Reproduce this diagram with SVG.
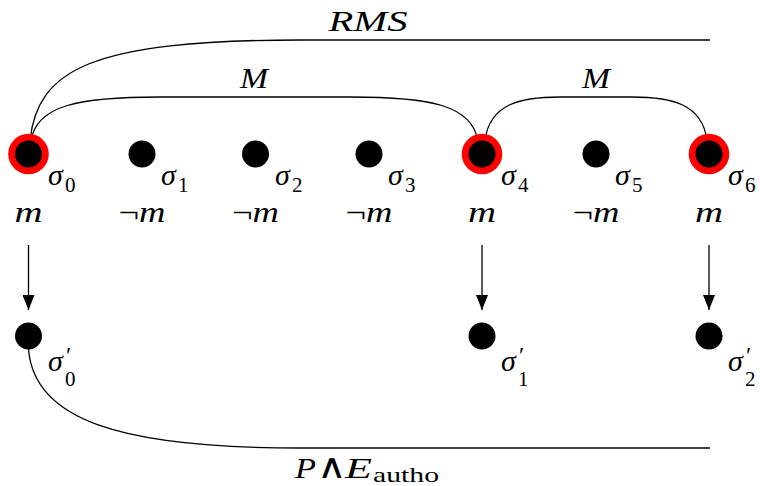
<svg xmlns="http://www.w3.org/2000/svg" width="760" height="486" viewBox="0 0 760 486">
<style>
.c{fill:none;stroke:#000;stroke-width:1.3}
.a{fill:none;stroke:#000;stroke-width:1.3}
.ring{fill:#ff0000}
.dot{fill:#000}
.t{font-family:"Liberation Serif","DejaVu Serif",serif;font-style:italic;font-size:30px;fill:#000}
.u{font-style:normal}
.w{font-family:"DejaVu Sans",sans-serif;font-style:normal;font-size:26px;font-weight:300}
.s{font-style:normal;font-size:21px}
.p{font-style:normal;font-size:24px}
</style>
<defs>
<marker id="ah" viewBox="0 0 15 12" refX="15" refY="6" markerWidth="15" markerHeight="12" markerUnits="userSpaceOnUse" orient="auto">
<path d="M0,0 L15,6 L0,12 z" fill="#000"/>
</marker>
</defs>
<rect width="760" height="486" fill="#fff"/>
<g id="connectors">
<path class="c" d="M30,140 C38,70 90,40 300,40 L710,40"/>
<path class="c" d="M31,141 C36,105 80,97 160,97 L350,97 C430,97 472,105 478,141"/>
<path class="c" d="M485,140 C490,104 520,97 560,97 L632,97 C672,97 702,104 707,140"/>
<path class="c" d="M28.5,349 C34,420 120,448 300,448 L710,448"/>
<line class="a" x1="28.5" y1="245" x2="28.5" y2="310" marker-end="url(#ah)"/>
<line class="a" x1="482" y1="245" x2="482" y2="310" marker-end="url(#ah)"/>
<line class="a" x1="709" y1="245" x2="709" y2="310" marker-end="url(#ah)"/>
<text class="t" x="368" y="31" text-anchor="middle" textLength="79" lengthAdjust="spacingAndGlyphs">RMS</text>
<text class="t" x="254" y="88" text-anchor="middle" textLength="28" lengthAdjust="spacingAndGlyphs">M</text>
<text class="t" x="596" y="88" text-anchor="middle" textLength="28" lengthAdjust="spacingAndGlyphs">M</text>
<text class="t" x="295" y="478" textLength="21" lengthAdjust="spacingAndGlyphs">P</text>
<text class="t w" transform="translate(331.5,478) scale(1.55,1.3)" text-anchor="middle">∧</text>
<text class="t" x="345" y="478" textLength="27" lengthAdjust="spacingAndGlyphs">E</text>
<text class="t s" x="373" y="482" textLength="66" lengthAdjust="spacingAndGlyphs">autho</text>
</g>
<g id="s0">
<circle class="ring" cx="28.5" cy="154" r="20.3"/>
<circle class="dot" cx="28.5" cy="154" r="13.5"/>
<text class="t" x="48" y="185">σ<tspan class="s" x="65" y="192">0</tspan></text>
<text class="t" x="28.5" y="222" text-anchor="middle" textLength="28" lengthAdjust="spacingAndGlyphs">m</text>
</g>
<g id="s1">
<circle class="dot" cx="142" cy="154" r="13.5"/>
<text class="t" x="161" y="185">σ<tspan class="s" x="178" y="192">1</tspan></text>
<text class="t" x="142" y="222" text-anchor="middle" textLength="47" lengthAdjust="spacingAndGlyphs"><tspan class="u">¬</tspan>m</text>
</g>
<g id="s2">
<circle class="dot" cx="255.5" cy="154" r="13.5"/>
<text class="t" x="275" y="185">σ<tspan class="s" x="292" y="192">2</tspan></text>
<text class="t" x="255.5" y="222" text-anchor="middle" textLength="47" lengthAdjust="spacingAndGlyphs"><tspan class="u">¬</tspan>m</text>
</g>
<g id="s3">
<circle class="dot" cx="369" cy="154" r="13.5"/>
<text class="t" x="388" y="185">σ<tspan class="s" x="405" y="192">3</tspan></text>
<text class="t" x="369" y="222" text-anchor="middle" textLength="47" lengthAdjust="spacingAndGlyphs"><tspan class="u">¬</tspan>m</text>
</g>
<g id="s4">
<circle class="ring" cx="482" cy="154" r="20.3"/>
<circle class="dot" cx="482" cy="154" r="13.5"/>
<text class="t" x="501" y="185">σ<tspan class="s" x="518" y="192">4</tspan></text>
<text class="t" x="482" y="222" text-anchor="middle" textLength="28" lengthAdjust="spacingAndGlyphs">m</text>
</g>
<g id="s5">
<circle class="dot" cx="596" cy="154" r="13.5"/>
<text class="t" x="615" y="185">σ<tspan class="s" x="632" y="192">5</tspan></text>
<text class="t" x="596" y="222" text-anchor="middle" textLength="47" lengthAdjust="spacingAndGlyphs"><tspan class="u">¬</tspan>m</text>
</g>
<g id="s6">
<circle class="ring" cx="709" cy="154" r="20.3"/>
<circle class="dot" cx="709" cy="154" r="13.5"/>
<text class="t" x="728" y="185">σ<tspan class="s" x="745" y="192">6</tspan></text>
<text class="t" x="709" y="222" text-anchor="middle" textLength="28" lengthAdjust="spacingAndGlyphs">m</text>
</g>
<g id="sp0">
<circle class="dot" cx="28.5" cy="336" r="13.5"/>
<text class="t" x="48" y="371">σ<tspan class="p" x="66" y="363">′</tspan><tspan class="s" x="65" y="386">0</tspan></text>
</g>
<g id="sp1">
<circle class="dot" cx="482" cy="336" r="13.5"/>
<text class="t" x="501" y="371">σ<tspan class="p" x="519" y="363">′</tspan><tspan class="s" x="518" y="386">1</tspan></text>
</g>
<g id="sp2">
<circle class="dot" cx="709" cy="336" r="13.5"/>
<text class="t" x="728" y="371">σ<tspan class="p" x="746" y="363">′</tspan><tspan class="s" x="745" y="386">2</tspan></text>
</g>
</svg>
